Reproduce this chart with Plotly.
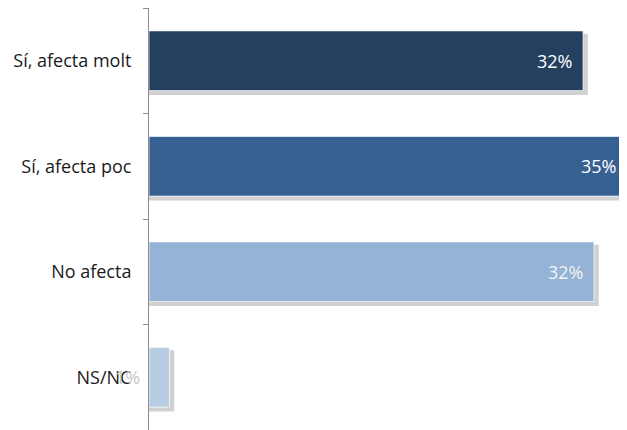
import plotly.graph_objects as go

categories = ["Sí, afecta molt", "Sí, afecta poc", "No afecta", "NS/NC"]
values = [31.8, 35.0, 32.6, 1.5]
labels = ["32%", "35%", "32%", "1%"]
bar_colors = ["#243F60", "#366092", "#95B3D7", "#B8CCE4"]
label_colors = ["#FFFFFF", "#FFFFFF", "#F2F2F2", "#C8C8C8"]

FONT = "Open Sans"
X_MAX = 35.02

fig = go.Figure()

# soft shadow behind each bar
fig.add_trace(go.Bar(
    y=categories, x=[v + 0.35 for v in values], orientation="h",
    marker=dict(color="rgba(140,140,140,0.4)", line=dict(width=0)),
    width=0.58, offset=-0.255, hoverinfo="skip", showlegend=False,
))
fig.add_trace(go.Bar(
    y=categories, x=values, orientation="h",
    marker=dict(color=bar_colors, line=dict(color="rgba(255,255,255,0.7)", width=1)),
    width=0.566, showlegend=False,
))

for cat, v, lab, col in zip(categories, values, labels, label_colors):
    fig.add_annotation(
        x=min(v, X_MAX), y=cat, text=lab, showarrow=False, xanchor="right",
        xshift=-9 if v > 5 else -27,
        font=dict(family=FONT, size=18, color=col),
    )

fig.update_layout(
    width=619, height=422,
    margin=dict(l=141, r=0, t=0, b=0),
    plot_bgcolor="white", paper_bgcolor="white",
    barmode="overlay",
    xaxis=dict(range=[0, X_MAX], showgrid=False, zeroline=False,
               showticklabels=False, showline=False, ticks=""),
    yaxis=dict(autorange=False, range=[3.5, -0.5], type="category",
               showline=True, linecolor="#8C8C8C", linewidth=1,
               ticks="outside", tickson="boundaries", ticklen=5,
               tickcolor="#8C8C8C", showgrid=False,
               ticklabelstandoff=13,
               tickfont=dict(family=FONT, size=18, color="#1A1A1A")),
)

fig.write_html("out.html")
